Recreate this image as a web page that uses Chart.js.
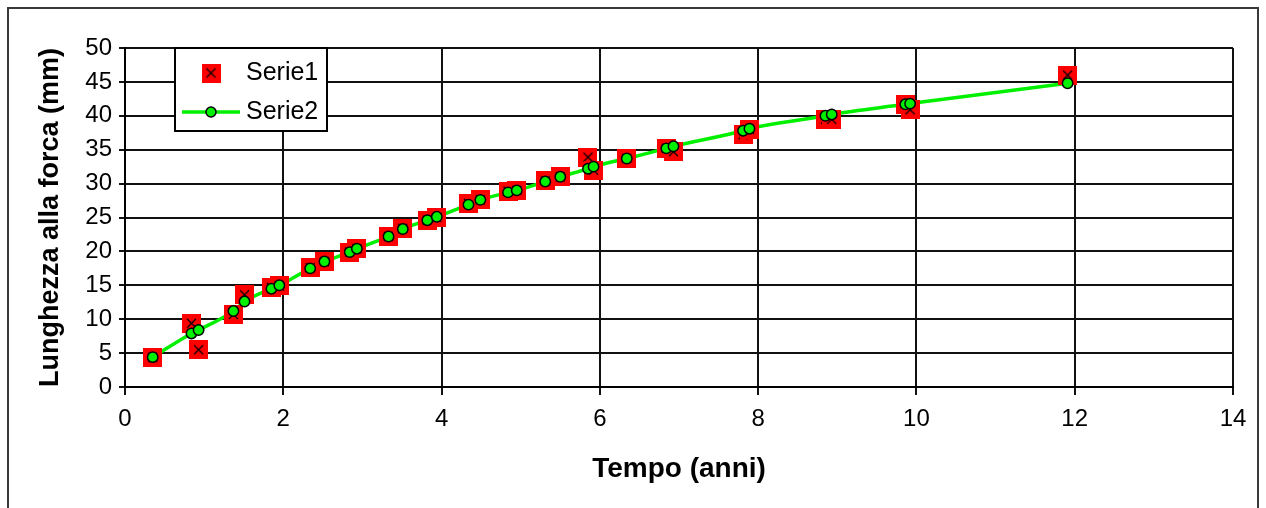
<!DOCTYPE html>
<html>
<head>
<meta charset="utf-8">
<script src="https://cdn.jsdelivr.net/npm/chart.js@4"></script>
<style>
  html, body { margin: 0; padding: 0; background: #fff; }
  #wrap { position: relative; width: 1266px; height: 508px; overflow: hidden; }
  #frame { position: absolute; left: 7px; top: 7px; width: 1252px; height: 530px; border: 2px solid #3a3a3a; box-sizing: border-box; pointer-events: none; }
</style>
</head>
<body>
<div id="wrap">
  <canvas id="chart" width="1266" height="508"></canvas>
  <div id="frame"></div>
</div>
<script>
// età (anni) di ogni campione
const tempo = [0.35, 0.84, 0.93, 1.37, 1.51, 1.85, 1.95, 2.34, 2.52, 2.84, 2.93, 3.33, 3.51, 3.82, 3.94,
  4.34, 4.49, 4.84, 4.95, 5.31, 5.50, 5.85, 5.92, 6.34, 6.84, 6.93, 7.81, 7.89, 8.85, 8.93, 9.86, 9.92, 11.91];
// lunghezze osservate
const serie1 = [4.4, 9.4, 5.5, 10.7, 13.6, 14.7, 14.9, 17.6, 18.5, 19.9, 20.4, 22.2, 23.4, 24.6, 25.0,
  27.1, 27.6, 28.9, 29.0, 30.4, 31.0, 33.9, 32.0, 33.7, 35.2, 34.7, 37.2, 38.0, 39.5, 39.5, 41.6, 40.9, 46.0];
// lunghezze stimate (curva)
const serie2 = [4.4, 7.9, 8.4, 11.2, 12.6, 14.5, 15.0, 17.5, 18.5, 19.9, 20.4, 22.2, 23.3, 24.6, 25.1,
  26.9, 27.6, 28.7, 29.0, 30.3, 31.0, 32.2, 32.5, 33.7, 35.2, 35.5, 37.8, 38.1, 40.0, 40.2, 41.7, 41.8, 44.8];
const seriesNames = ['Serie1', 'Serie2'];
const xTicks = [0, 2, 4, 6, 8, 10, 12, 14];
const yTicks = [0, 5, 10, 15, 20, 25, 30, 35, 40, 45, 50];

const GREEN = '#00f000';
const FONT = "'Liberation Sans', Arial, sans-serif";

// red square with black cross, used as point style
function makeSquareMarker(size) {
  const c = document.createElement('canvas');
  c.width = size; c.height = size;
  const g = c.getContext('2d');
  g.fillStyle = '#ff0000';
  g.fillRect(0, 0, size, size);
  g.strokeStyle = '#000';
  g.lineWidth = 1.2;
  const m = Math.round(size * 0.26);
  g.beginPath();
  g.moveTo(m, m); g.lineTo(size - m, size - m);
  g.moveTo(size - m, m); g.lineTo(m, size - m);
  g.stroke();
  return c;
}
const squareMarker = makeSquareMarker(19);

const toPoints = ys => tempo.map((t, i) => ({ x: t, y: ys[i] }));

// legend box drawn inside the plot area
const boxLegend = {
  id: 'boxLegend',
  afterDatasetsDraw(chart) {
    const ctx = chart.ctx;
    const area = chart.chartArea;
    const x0 = area.left + 50, y0 = area.top, w = 152, h = 83;
    ctx.save();
    ctx.fillStyle = '#fff';
    ctx.fillRect(x0, y0, w, h);
    ctx.strokeStyle = '#000';
    ctx.lineWidth = 2;
    ctx.strokeRect(x0, y0, w, h);

    ctx.drawImage(squareMarker, x0 + 36 - 9.5, y0 + 25 - 9.5);

    ctx.strokeStyle = GREEN;
    ctx.lineWidth = 3.5;
    ctx.beginPath();
    ctx.moveTo(x0 + 7, y0 + 64);
    ctx.lineTo(x0 + 65, y0 + 64);
    ctx.stroke();
    ctx.fillStyle = GREEN;
    ctx.strokeStyle = '#000';
    ctx.lineWidth = 1.5;
    ctx.beginPath();
    ctx.arc(x0 + 36, y0 + 64, 5, 0, Math.PI * 2);
    ctx.fill();
    ctx.stroke();

    ctx.fillStyle = '#000';
    ctx.font = '25px ' + FONT;
    ctx.textBaseline = 'middle';
    ctx.textAlign = 'left';
    ctx.fillText(seriesNames[0], x0 + 71, y0 + 25);
    ctx.fillText(seriesNames[1], x0 + 71, y0 + 64);
    ctx.restore();
  }
};

new Chart(document.getElementById('chart'), {
  type: 'scatter',
  data: {
    datasets: [
      {
        // curve of Serie2, drawn under the markers
        label: seriesNames[1] + ' linea',
        data: toPoints(serie2),
        showLine: true,
        borderColor: GREEN,
        borderWidth: 3.5,
        cubicInterpolationMode: 'monotone',
        pointRadius: 0,
        order: 3
      },
      {
        label: seriesNames[0],
        data: toPoints(serie1),
        pointStyle: squareMarker,
        pointRadius: 9.5,
        order: 2
      },
      {
        label: seriesNames[1],
        data: toPoints(serie2),
        pointStyle: 'circle',
        pointRadius: 5.2,
        pointBackgroundColor: GREEN,
        pointBorderColor: '#000',
        pointBorderWidth: 1.5,
        order: 1
      }
    ]
  },
  options: {
    responsive: false,
    animation: false,
    layout: { padding: { top: 48, right: 33, left: 0, bottom: 0 } },
    plugins: {
      legend: { display: false },
      tooltip: { enabled: false }
    },
    scales: {
      x: {
        type: 'linear',
        min: 0,
        max: 14,
        afterBuildTicks: s => { s.ticks = xTicks.map(v => ({ value: v })); },
        afterFit: s => { s.height = 121; },
        border: { color: '#000', width: 2 },
        grid: { color: '#111', lineWidth: 2, tickLength: 8, tickColor: '#111' },
        ticks: { color: '#000', font: { family: FONT, size: 24 }, padding: 10, maxRotation: 0 },
        title: {
          display: true,
          text: 'Tempo (anni)',
          color: '#000',
          font: { family: FONT, size: 28, weight: 'bold' },
          padding: { top: 0, bottom: 22 }
        }
      },
      y: {
        min: 0,
        max: 50,
        afterBuildTicks: s => { s.ticks = yTicks.map(v => ({ value: v })); },
        afterFit: s => { s.width = 125; },
        border: { color: '#000', width: 2 },
        grid: { color: '#111', lineWidth: 2, tickLength: 6, tickColor: '#111' },
        ticks: { color: '#000', font: { family: FONT, size: 24 }, padding: 7 },
        title: {
          display: true,
          text: 'Lunghezza alla forca (mm)',
          color: '#000',
          font: { family: FONT, size: 27, weight: 'bold' },
          padding: { top: 34, bottom: 0 }
        }
      }
    }
  },
  plugins: [boxLegend]
});
</script>
</body>
</html>
